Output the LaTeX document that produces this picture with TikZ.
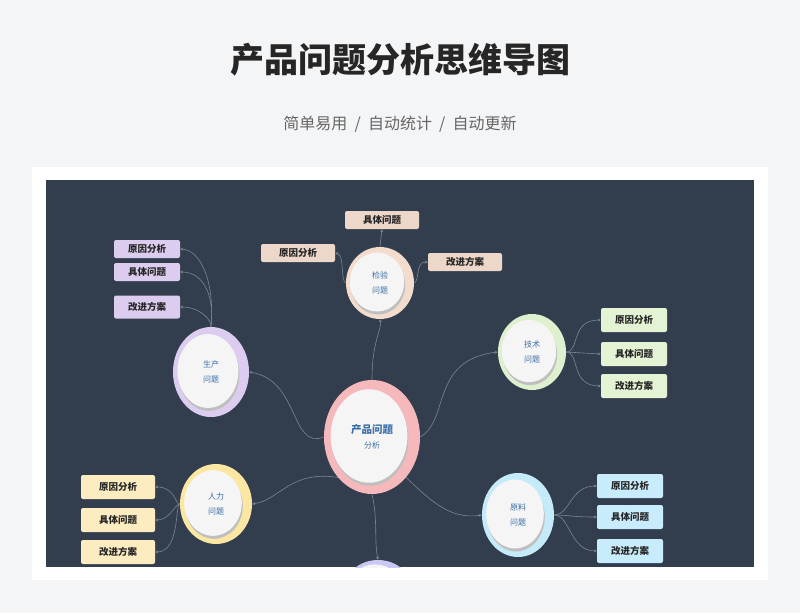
\documentclass[tikz,border=0pt]{standalone}
\usepackage{fontspec}
\setmainfont{Noto Sans CJK SC}
\usetikzlibrary{arrows.meta,shapes.geometric}
\definecolor{pagebg}{HTML}{F4F5F7}
\definecolor{panel}{HTML}{323E4E}
\definecolor{cpink}{HTML}{F6B9BB}
\definecolor{cpeach}{HTML}{F3DCCB}
\definecolor{bpeach}{HTML}{ECD7C8}
\definecolor{clav}{HTML}{DCCDF0}
\definecolor{cgreen}{HTML}{DFF0CF}
\definecolor{bgreen}{HTML}{E4F3D4}
\definecolor{cyel}{HTML}{FBE7A1}
\definecolor{byel}{HTML}{FCECC0}
\definecolor{cblue}{HTML}{C5EBFB}
\definecolor{bblue}{HTML}{C8ECFB}
\definecolor{cpur}{HTML}{C9C8F3}
\definecolor{txtblue}{HTML}{3B6FA5}
\definecolor{linec}{HTML}{7A8594}
\tikzset{
  leaf/.style={draw=none,rounded corners=2pt,minimum height=18pt,minimum width=66pt,font=\fontsize{9.5}{10}\selectfont\bfseries,text=black!85,inner sep=0pt},
  conn/.style={draw=linec,line width=0.6pt,-{Stealth[length=3pt,width=3pt]}},
  ctext/.style={font=\fontsize{8}{15}\selectfont,text=txtblue,align=center}
}
\newcommand{\topic}[7]{% name, x, y, rx, ry, colour, text
  \fill[#6] (#2,#3) ellipse [x radius=#4, y radius=#5];
  \fill[black!25] (#2-2,#3+2) ellipse [x radius=#4*0.8, y radius=#5*0.82];
  \fill[white!96!black] (#2-3,#3-1) ellipse [x radius=#4*0.8, y radius=#5*0.82];
  \node[ctext,minimum width=2*#4,minimum height=2*#5,ellipse] (#1) at (#2,#3) {#7};
}
\begin{document}
\begin{tikzpicture}[x=1pt,y=-1pt]
\useasboundingbox (0,0) rectangle (800,613);
\fill[pagebg] (0,0) rectangle (800,613);
\node[font=\fontsize{34}{36}\selectfont\bfseries,text=black!85] (title) at (400,60) {产品问题分析思维导图};
\node[font=\fontsize{16}{18}\selectfont,text=black!60] (sub) at (400,124) {简单易用\ \ /\ \ 自动统计\ \ /\ \ 自动更新};
\fill[white] (32,167) rectangle (768,580);
\begin{scope}
\clip (46,180) rectangle (754,567);
\fill[panel] (46,180) rectangle (754,567);
% topics
\topic{ct}{372}{437}{48}{57}{cpink}{\fontsize{10.5}{22}\selectfont\bfseries 产品问题\\[0pt]分析}
\topic{jy}{380}{283}{34}{36}{cpeach}{检验\\问题}
\topic{sc}{211}{372}{38}{45}{clav}{生产\\问题}
\topic{js}{532}{352}{34}{38}{cgreen}{技术\\问题}
\topic{rl}{216}{504}{36}{40}{cyel}{人力\\问题}
\topic{yl}{518}{515}{36}{42}{cblue}{原料\\问题}
\topic{bt}{378}{590}{34}{30}{cpur}{}
% leaves
\node[leaf,fill=bpeach,minimum width=74pt] (j1) at (382,220) {具体问题};
\node[leaf,fill=bpeach,minimum width=74pt] (j2) at (298,253) {原因分析};
\node[leaf,fill=bpeach,minimum width=74pt] (j3) at (465,262) {改进方案};
\node[leaf,fill=clav] (s1) at (147,249) {原因分析};
\node[leaf,fill=clav] (s2) at (147,272) {具体问题};
\node[leaf,fill=clav,minimum height=23pt] (s3) at (147,307) {改进方案};
\node[leaf,fill=bgreen,minimum height=24pt] (t1) at (634,320) {原因分析};
\node[leaf,fill=bgreen,minimum height=24pt] (t2) at (634,354) {具体问题};
\node[leaf,fill=bgreen,minimum height=24pt] (t3) at (634,386) {改进方案};
\node[leaf,fill=byel,minimum width=74pt,minimum height=24pt] (r1) at (118,487) {原因分析};
\node[leaf,fill=byel,minimum width=74pt,minimum height=24pt] (r2) at (118,520) {具体问题};
\node[leaf,fill=byel,minimum width=74pt,minimum height=24pt] (r3) at (118,552) {改进方案};
\node[leaf,fill=bblue,minimum height=24pt] (y1) at (630,486) {原因分析};
\node[leaf,fill=bblue,minimum height=24pt] (y2) at (630,517) {具体问题};
\node[leaf,fill=bblue,minimum height=24pt] (y3) at (630,551) {改进方案};
% connectors from centre
\draw[conn] (ct.north) .. controls (372,340) and (382,330) .. (jy.south);
\draw[conn] (ct.west) .. controls (290,450) and (300,380) .. (sc.east);
\draw[conn] (ct.east) .. controls (450,420) and (430,360) .. (js.west);
\draw[conn] (ct.south west) .. controls (290,470) and (280,500) .. (rl.east);
\draw[conn] (ct.south east) .. controls (430,500) and (450,520) .. (yl.west);
\draw[conn] (ct.south) .. controls (378,520) and (374,540) .. (bt.north);
% leaf connectors
\draw[conn] (jy.north) -- (j1.south);
\draw[conn] (jy.west) .. controls (340,280) and (345,255) .. (j2.east);
\draw[conn] (jy.east) .. controls (420,280) and (415,262) .. (j3.west);
\draw[conn] (sc.north) .. controls (215,280) and (200,250) .. (s1.east);
\draw[conn] (sc.north) .. controls (215,290) and (200,272) .. (s2.east);
\draw[conn] (sc.north) .. controls (212,320) and (200,307) .. (s3.east);
\draw[conn] (js.east) .. controls (580,352) and (570,320) .. (t1.west);
\draw[conn] (js.east) -- (t2.west);
\draw[conn] (js.east) .. controls (580,352) and (570,386) .. (t3.west);
\draw[conn] (rl.west) .. controls (175,504) and (175,487) .. (r1.east);
\draw[conn] (rl.west) .. controls (175,504) and (170,520) .. (r2.east);
\draw[conn] (rl.west) .. controls (175,504) and (180,552) .. (r3.east);
\draw[conn] (yl.east) .. controls (570,515) and (570,486) .. (y1.west);
\draw[conn] (yl.east) .. controls (570,515) and (570,517) .. (y2.west);
\draw[conn] (yl.east) .. controls (570,515) and (570,551) .. (y3.west);
\end{scope}
\end{tikzpicture}
\end{document}
